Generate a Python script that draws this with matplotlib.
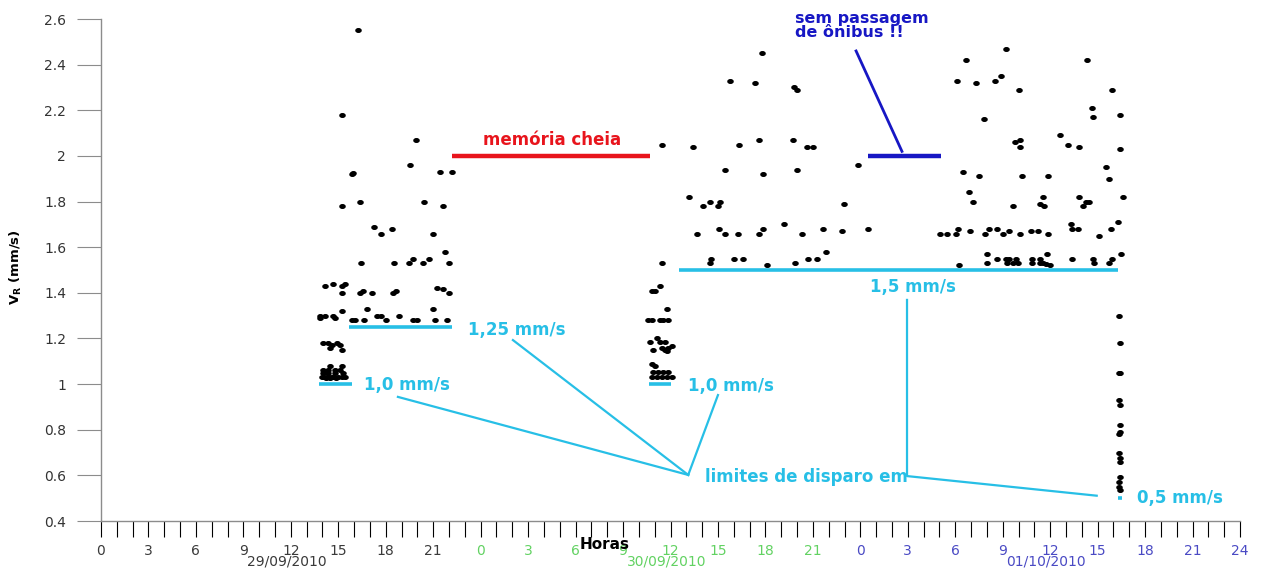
import numpy as np
import matplotlib.pyplot as plt
from matplotlib.path import Path
from matplotlib.transforms import Affine2D, blended_transform_factory

# time axis: hours counted from 00:00 of 29/09/2010
day_labels = ["29/09/2010", "30/09/2010", "01/10/2010"]
day_colors = ["#3a3a3a", "#62d262", "#4a4ac4"]

# afternoon of 29/09
hours_29 = [16.23, 15.25, 19.91, 19.53, 15.85, 15.93, 21.43, 22.17, 15.25, 16.37,
            20.42, 21.64, 17.28, 17.70, 18.38, 20.96, 21.74, 16.43, 18.52, 19.47,
            19.74, 20.34, 20.75, 22.02, 14.16, 14.65, 15.25, 15.42, 15.25, 16.37,
            16.56, 17.11, 18.43, 18.65, 21.22, 21.64, 22.02, 13.84, 14.16, 13.84,
            14.65, 14.79, 15.25, 15.85, 16.06, 16.64, 16.83, 17.43, 17.70, 18.02,
            18.84, 19.74, 19.96, 21.01, 21.11, 21.85, 14.05, 14.37, 14.58, 14.90,
            15.11, 15.22, 14.47, 14.47, 15.22, 14.03, 14.35, 14.79, 15.11, 13.95,
            14.10, 14.27, 14.43, 14.58, 14.73, 15.00, 15.21, 15.42, 14.05, 14.37,
            14.79, 15.32, 14.20, 14.50, 14.88]
vr_29 = [2.55, 2.18, 2.07, 1.96, 1.92, 1.925, 1.93, 1.93, 1.78, 1.80,
         1.80, 1.78, 1.69, 1.66, 1.68, 1.66, 1.58, 1.53, 1.53, 1.53,
         1.55, 1.53, 1.55, 1.53, 1.43, 1.44, 1.43, 1.44, 1.40, 1.40,
         1.41, 1.40, 1.40, 1.41, 1.42, 1.415, 1.40, 1.30, 1.30, 1.29,
         1.30, 1.29, 1.32, 1.28, 1.28, 1.28, 1.33, 1.30, 1.30, 1.28,
         1.30, 1.28, 1.28, 1.33, 1.28, 1.28, 1.18, 1.18, 1.17, 1.18,
         1.17, 1.15, 1.16, 1.08, 1.08, 1.06, 1.06, 1.06, 1.06, 1.032,
         1.032, 1.032, 1.032, 1.032, 1.032, 1.032, 1.032, 1.032, 1.047, 1.047,
         1.047, 1.047, 1.025, 1.025, 1.025]

# 30/09, after the memory was emptied
hours_30 = [35.44, 35.00, 34.81, 35.34, 35.76, 34.60, 34.81, 35.34, 35.54, 35.86,
            35.13, 34.70, 35.34, 35.65, 34.91, 35.44, 35.65, 35.86, 36.07, 35.76,
            34.81, 35.02, 34.91, 35.23, 35.54, 35.86, 34.81, 35.13, 35.44, 35.76,
            36.07, 35.44, 37.40, 40.35, 41.61, 43.76, 44.61, 45.03, 39.44, 41.86,
            44.01, 47.83, 37.19, 38.03, 38.50, 39.13, 39.02, 46.98, 37.69, 39.08,
            39.44, 40.25, 41.59, 41.86, 43.17, 44.33, 45.62, 46.86, 48.46, 38.54,
            38.50, 40.03, 40.56, 42.12, 43.87, 44.67, 45.24, 45.81, 41.76, 39.76,
            41.34, 43.81, 44.01]
vr_30 = [1.53, 1.41, 1.41, 1.43, 1.33, 1.28, 1.28, 1.28, 1.28, 1.28,
         1.20, 1.183, 1.183, 1.183, 1.15, 1.16, 1.15, 1.16, 1.165, 1.145,
         1.09, 1.08, 1.052, 1.052, 1.052, 1.052, 1.03, 1.03, 1.03, 1.03,
         1.03, 2.05, 2.04, 2.05, 2.07, 2.07, 2.04, 2.04, 1.94, 1.92,
         1.94, 1.96, 1.82, 1.78, 1.80, 1.80, 1.78, 1.79, 1.66, 1.68,
         1.66, 1.66, 1.66, 1.68, 1.70, 1.66, 1.68, 1.67, 1.68, 1.55,
         1.53, 1.55, 1.55, 1.52, 1.53, 1.55, 1.55, 1.58, 2.45, 2.33,
         2.32, 2.30, 2.29]

# 01/10
hours_01 = [57.21, 54.68, 62.31, 54.09, 55.31, 56.51, 56.89, 58.03, 63.93, 62.62,
            62.72, 64.41, 55.83, 60.62, 57.77, 58.09, 58.09, 61.11, 61.84, 64.41,
            54.51, 55.52, 58.20, 59.84, 63.51, 63.74, 54.87, 55.10, 57.63, 59.53,
            59.36, 59.61, 61.84, 62.09, 62.26, 62.43, 64.58, 53.03, 53.46, 54.02,
            54.15, 54.93, 55.88, 56.15, 56.62, 57.00, 57.42, 58.09, 58.79, 59.21,
            59.84, 61.36, 61.78, 63.08, 63.82, 64.26, 61.30, 55.99, 56.62, 57.21,
            57.42, 57.84, 58.83, 59.36, 59.78, 61.36, 62.72, 63.93, 64.48, 55.99,
            57.25, 57.63, 57.98, 58.83, 59.36, 59.57, 59.74, 59.99, 62.79, 63.74,
            54.25]
vr_01 = [2.47, 2.42, 2.42, 2.33, 2.32, 2.33, 2.35, 2.29, 2.29, 2.21,
         2.17, 2.18, 2.16, 2.09, 2.06, 2.07, 2.04, 2.05, 2.04, 2.03,
         1.93, 1.91, 1.91, 1.91, 1.95, 1.90, 1.84, 1.80, 1.78, 1.82,
         1.79, 1.78, 1.82, 1.78, 1.80, 1.80, 1.82, 1.66, 1.66, 1.66,
         1.68, 1.67, 1.66, 1.68, 1.68, 1.66, 1.67, 1.66, 1.67, 1.67,
         1.66, 1.68, 1.68, 1.65, 1.68, 1.71, 1.70, 1.57, 1.55, 1.55,
         1.55, 1.55, 1.55, 1.55, 1.57, 1.55, 1.55, 1.55, 1.57, 1.532,
         1.532, 1.532, 1.532, 1.532, 1.532, 1.532, 1.525, 1.52, 1.532, 1.532,
         1.52]

# last burst after the trigger was lowered to 0.5 mm/s
hours_low = [64.38, 64.42, 64.36, 64.44, 64.38, 64.42, 64.40, 64.44, 64.36, 64.38,
             64.42, 64.44, 64.40, 64.36, 64.38, 64.42]
vr_low = [1.30, 1.18, 1.05, 1.05, 0.93, 0.91, 0.82, 0.79, 0.78, 0.70,
          0.675, 0.66, 0.595, 0.57, 0.55, 0.535]

# trigger thresholds (mm/s) and the stretch of time each one was active
limit_vr = [1.0, 1.25, 1.0, 1.5, 0.5]
limit_start = [13.8, 15.7, 34.65, 36.55, 64.3]
limit_end = [15.85, 22.2, 36.05, 64.3, 64.55]
limit_text = ["1,0 mm/s", "1,25 mm/s", "1,0 mm/s", "1,5 mm/s", "0,5 mm/s"]
limit_text_pos = [(16.6, 0.996), (23.2, 1.237), (37.1, 0.992), (48.6, 1.426), (65.5, 0.501)]

memory_full = (22.2, 34.7)
no_bus = (48.5, 53.1)

cyan = "#27bfe6"
red = "#e8141c"
blue = "#1717c4"

fig = plt.figure(figsize=(12.62, 5.68), dpi=100)
ax = fig.add_axes([0.0800, 0.0827, 0.9026, 0.8838])
ax.set_xlim(0, 72)
ax.set_ylim(0.4, 2.6)

dot = Path.unit_circle().transformed(Affine2D().scale(1.0, 0.7))
for hh, vv in [(hours_29, vr_29), (hours_30, vr_30), (hours_01, vr_01), (hours_low, vr_low)]:
    ax.plot(hh, vv, ls="none", marker=dot, ms=3.7, color="black", zorder=5)

# trigger levels
for v, a, b in zip(limit_vr, limit_start, limit_end):
    ax.plot([a, b], [v, v], color=cyan, lw=2.6, solid_capstyle="butt", zorder=4)
for txt, (tx, ty) in zip(limit_text, limit_text_pos):
    ax.text(tx, ty, txt, color=cyan, fontsize=12, fontweight="bold",
            ha="left", va="center")

# leaders to "limites de disparo em"
hub = (37.12, 0.602)
for sx, sy in [(18.77, 0.944), (26.04, 1.193), (39.0, 0.952)]:
    ax.plot([sx, hub[0]], [sy, hub[1]], color=cyan, lw=1.6)
ax.plot([50.95, 50.95, 62.94], [1.369, 0.597, 0.511], color=cyan, lw=1.6)
ax.text(38.2, 0.593, "limites de disparo em", color=cyan, fontsize=12,
        fontweight="bold", ha="left", va="center")

# gaps in the record
ax.plot(memory_full, [2.0, 2.0], color=red, lw=3.2, solid_capstyle="butt")
ax.text(28.5, 2.07, "memória cheia", color=red, fontsize=12, fontweight="bold",
        ha="center", va="center")
ax.plot(no_bus, [2.0, 2.0], color=blue, lw=3.2, solid_capstyle="butt")
ax.plot([47.73, 50.63], [2.46, 2.02], color=blue, lw=2.0)
ax.text(43.9, 2.572, "sem passagem\nde ônibus !!", color=blue, fontsize=11.5,
        fontweight="bold", ha="left", va="center", linespacing=0.95, clip_on=False)

# axes styling
for side in ["top", "right"]:
    ax.spines[side].set_visible(False)
for side in ["left", "bottom"]:
    ax.spines[side].set_color("#8c8c8c")
    ax.spines[side].set_linewidth(1.0)

ax.set_yticks(np.arange(0.4, 2.61, 0.2))
ax.set_yticklabels(["%g" % round(v, 1) for v in np.arange(0.4, 2.61, 0.2)])
ax.tick_params(axis="y", direction="out", length=17, width=0.8, color="#8c8c8c",
               pad=8, labelsize=10, labelcolor="#333333")

hour_ticks = np.arange(0, 73)
ax.set_xticks(hour_ticks)
labels = []
for h in hour_ticks:
    if h % 3:
        labels.append("")
    elif h == 72:
        labels.append("24")
    else:
        labels.append(str(h % 24))
ax.set_xticklabels(labels)
ax.tick_params(axis="x", direction="out", length=11.5, width=0.8, pad=5, labelsize=10)
for h, tick in zip(hour_ticks, ax.xaxis.get_major_ticks()):
    c = day_colors[min(h // 24, 2)]
    tick.tick1line.set_color(c)
    tick.label1.set_color(c)

trans = blended_transform_factory(ax.transData, ax.transAxes)
for i, (lab, c) in enumerate(zip(day_labels, day_colors)):
    ax.text(24 * i + 11.75, -0.081, lab, color=c, fontsize=10,
            ha="center", va="center", transform=trans)

ax.set_xlabel("Horas", fontsize=11, fontweight="bold", color="black")
ax.xaxis.set_label_coords(0.4425, -0.031)
ax.set_ylabel(r"V$_\mathregular{R}$ (mm/s)", fontsize=9.5, fontweight="bold")
ax.yaxis.set_label_coords(-0.068, 0.505)

fig.savefig("out.png", dpi=100)
